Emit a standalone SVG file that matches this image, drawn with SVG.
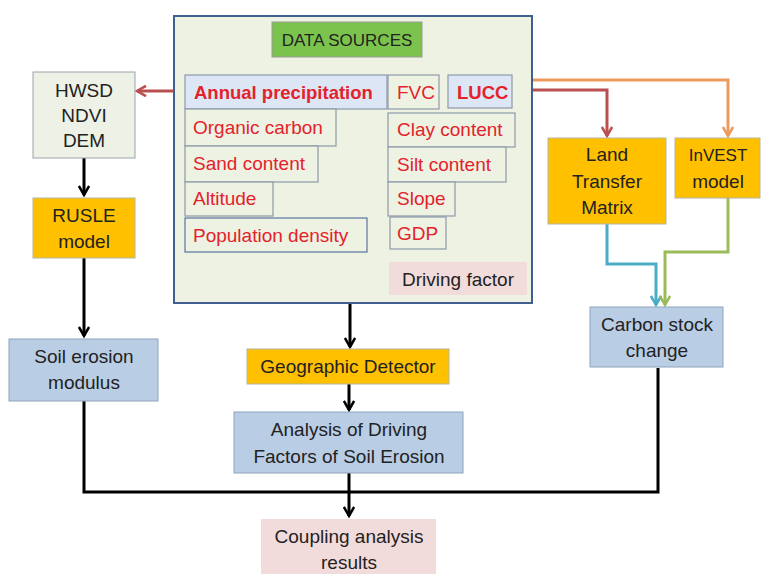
<svg xmlns="http://www.w3.org/2000/svg" width="767" height="574" viewBox="0 0 767 574">
<defs>
<marker id="ak" viewBox="0 0 10 10" refX="8" refY="5" markerWidth="4.3" markerHeight="4.3" orient="auto" markerUnits="strokeWidth"><path d="M1,1 L8,5 L1,9" fill="none" stroke="#000" stroke-width="2"/></marker>
<marker id="ar" viewBox="0 0 10 10" refX="8" refY="5" markerWidth="4.3" markerHeight="4.3" orient="auto" markerUnits="strokeWidth"><path d="M1,1 L8,5 L1,9" fill="none" stroke="#b9504f" stroke-width="2"/></marker>
<marker id="ao" viewBox="0 0 10 10" refX="8" refY="5" markerWidth="4.3" markerHeight="4.3" orient="auto" markerUnits="strokeWidth"><path d="M1,1 L8,5 L1,9" fill="none" stroke="#eb9b5e" stroke-width="2"/></marker>
<marker id="ab" viewBox="0 0 10 10" refX="8" refY="5" markerWidth="4.3" markerHeight="4.3" orient="auto" markerUnits="strokeWidth"><path d="M1,1 L8,5 L1,9" fill="none" stroke="#4bacc6" stroke-width="2"/></marker>
<marker id="ag" viewBox="0 0 10 10" refX="8" refY="5" markerWidth="4.3" markerHeight="4.3" orient="auto" markerUnits="strokeWidth"><path d="M1,1 L8,5 L1,9" fill="none" stroke="#9bbb59" stroke-width="2"/></marker>
</defs>
<style>
text{font-family:"Liberation Sans",Arial,sans-serif;font-size:19px;fill:#222;text-anchor:middle}
.red{fill:#e3222b;text-anchor:start}
.b{font-weight:bold;font-size:18.5px}
.sm{font-size:17px}
.lg{fill:#eef2e3;stroke:#8d9aa8;stroke-width:1.2}
.lb{fill:#dce6f4;stroke:#8d9aa8;stroke-width:1.2}
.or{fill:#ffc000;stroke:#b5b5a0;stroke-width:1}
.bl{fill:#b9cde5;stroke:#8ea3bd;stroke-width:1}
.pk{fill:#f2dcdb;stroke:none}
.k{fill:none;stroke:#000;stroke-width:3}
</style>
<rect width="767" height="574" fill="#fff"/>
<g id="connectors">
<path d="M185,91 H137" fill="none" stroke="#b9504f" stroke-width="3" marker-end="url(#ar)"/>
<path d="M512,80 H728 V136" fill="none" stroke="#eb9b5e" stroke-width="3" marker-end="url(#ao)"/>
<path d="M512,90 H607 V136" fill="none" stroke="#b9504f" stroke-width="3" marker-end="url(#ar)"/>
<path d="M607,224 V264 H656 V305" fill="none" stroke="#4bacc6" stroke-width="3" marker-end="url(#ab)"/>
<path d="M728,198 V252 H665 V305" fill="none" stroke="#9bbb59" stroke-width="3" marker-end="url(#ag)"/>
<path class="k" d="M84,158 V195" marker-end="url(#ak)"/>
<path class="k" d="M84,258 V336" marker-end="url(#ak)"/>
<path class="k" d="M350,303 V347" marker-end="url(#ak)"/>
<path class="k" d="M349,384 V410" marker-end="url(#ak)"/>
<path class="k" d="M84,401 V492 H658 V368"/>
<path class="k" d="M349,473 V516" marker-end="url(#ak)"/>
</g>
<g id="data-sources">
<rect x="174" y="16" width="358" height="287" fill="#eef2e3" stroke="#41608f" stroke-width="2"/>
<g id="title"><rect x="272" y="22" width="150" height="35" fill="#7cc34d" stroke="#9a9a9a" stroke-width="1"/><text class="sm" x="347" y="46">DATA SOURCES</text></g>
<g id="annual"><rect class="lb" x="185" y="75" width="202" height="34"/><text class="red b" x="194" y="99">Annual precipitation</text></g>
<g id="fvc"><rect class="lg" x="388" y="75" width="51" height="34"/><text class="red" x="397" y="99">FVC</text></g>
<g id="lucc"><rect class="lb" x="448" y="75" width="64" height="33"/><text class="red b" x="457" y="99">LUCC</text></g>
<g id="organic"><rect class="lg" x="185" y="109" width="151" height="37"/><text class="red" x="193" y="134">Organic carbon</text></g>
<g id="clay"><rect class="lg" x="388" y="113" width="127" height="34"/><text class="red" x="397" y="136">Clay content</text></g>
<g id="sand"><rect class="lg" x="185" y="146" width="133" height="36"/><text class="red" x="193" y="170">Sand content</text></g>
<g id="silt"><rect class="lg" x="388" y="147" width="118" height="35"/><text class="red" x="397" y="171">Silt content</text></g>
<g id="altitude"><rect class="lg" x="185" y="182" width="88" height="34"/><text class="red" x="193" y="205">Altitude</text></g>
<g id="slope"><rect class="lg" x="388" y="182" width="67" height="34"/><text class="red" x="397" y="205">Slope</text></g>
<g id="population"><rect x="185" y="218" width="182" height="34" fill="#eef2e3" stroke="#5a74a0" stroke-width="1.2"/><text class="red" x="193" y="242">Population density</text></g>
<g id="gdp"><rect class="lg" x="390" y="217" width="56" height="32"/><text class="red" x="397" y="240">GDP</text></g>
<g id="driving"><rect class="pk" x="389" y="262" width="138" height="33"/><text x="458" y="286">Driving factor</text></g>
</g>
<g id="hwsd"><rect x="33" y="72" width="102" height="86" fill="#edf1e6" stroke="#9aa4ae" stroke-width="1"/><text x="84" y="97">HWSD</text><text x="84" y="122">NDVI</text><text x="84" y="147">DEM</text></g>
<g id="rusle"><rect class="or" x="33" y="198" width="102" height="60"/><text x="84" y="222">RUSLE</text><text x="84" y="248">model</text></g>
<g id="soil"><rect class="bl" x="9" y="339" width="149" height="62"/><text x="84" y="363">Soil erosion</text><text x="84" y="389">modulus</text></g>
<g id="geodetector"><rect class="or" x="247" y="349" width="202" height="35"/><text x="348" y="373">Geographic Detector</text></g>
<g id="analysis"><rect class="bl" x="234" y="412" width="229" height="61"/><text x="349" y="436">Analysis of Driving</text><text x="349" y="463">Factors of Soil Erosion</text></g>
<g id="coupling"><rect class="pk" x="261" y="519" width="175" height="58"/><text x="349" y="543">Coupling analysis</text><text x="349" y="569">results</text></g>
<g id="ltm"><rect class="or" x="548" y="138" width="118" height="86"/><text x="607" y="161">Land</text><text x="607" y="188">Transfer</text><text x="607" y="214">Matrix</text></g>
<g id="invest"><rect class="or" x="675" y="138" width="85" height="60"/><text class="sm" x="718" y="161">InVEST</text><text x="718" y="188">model</text></g>
<g id="carbon"><rect class="bl" x="590" y="307" width="133" height="60"/><text x="657" y="331">Carbon stock</text><text x="657" y="357">change</text></g>
</svg>
